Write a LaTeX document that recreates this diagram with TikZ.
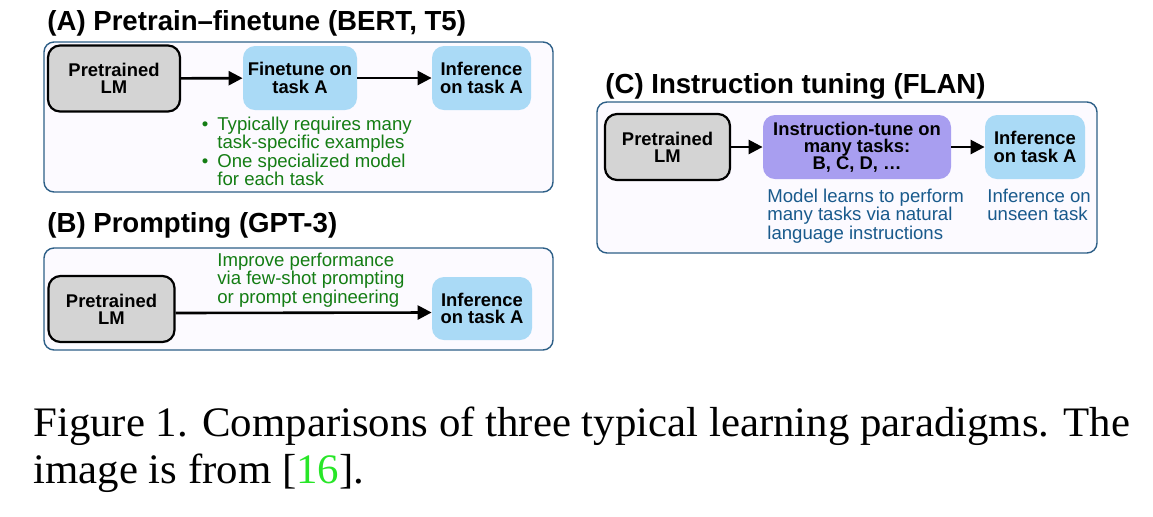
\documentclass[tikz,border=0pt]{standalone}
\usepackage{fontspec}
\setmainfont{Liberation Sans}
\newfontfamily\capfont[FakeStretch=1.02]{Liberation Serif}
\usetikzlibrary{arrows.meta}
\definecolor{panelborder}{RGB}{45,95,135}
\definecolor{panelfill}{RGB}{252,250,255}
\definecolor{lmgray}{RGB}{212,212,212}
\definecolor{lblue}{RGB}{170,218,246}
\definecolor{lpurple}{RGB}{168,158,240}
\definecolor{dgreen}{RGB}{20,125,20}
\definecolor{dblue}{RGB}{25,90,140}
\definecolor{citegreen}{RGB}{40,230,40}
\begin{document}
\begin{tikzpicture}[x=0.5pt,y=-0.5pt,
  panel/.style={draw=panelborder, fill=panelfill, line width=0.7pt, rounded corners=5pt, inner sep=0},
  boxfont/.style={font=\fontsize{9.2}{8.6}\selectfont\bfseries},
  lmbox/.style={boxfont, draw=black, line width=1.1pt, fill=lmgray, rounded corners=6pt, align=center, inner sep=0},
  bluebox/.style={boxfont, fill=lblue, rounded corners=6pt, align=center, inner sep=0},
  purplebox/.style={boxfont, fill=lpurple, rounded corners=6pt, align=center, inner sep=0},
  title/.style={font=\fontsize{13.8}{15}\selectfont\bfseries, anchor=base west, inner sep=0},
  note/.style={font=\fontsize{9.3}{8.5}\selectfont, anchor=base west, inner sep=0},
  arr/.style={-{Triangle[length=7pt,width=7pt]}, line width=1.3pt}]
\useasboundingbox (0,0) rectangle (1153,516);

% Panel A
\node[title] (tA) at (47,30) {(A) Pretrain--finetune (BERT, T5)};
\node[panel, minimum width=254.5pt, minimum height=75pt] (pA) at (298.5,117) {};
\node[lmbox, minimum width=66pt, minimum height=33pt] (aLM) at (114,78.5) {Pretrained\\LM};
\node[bluebox, minimum width=57pt, minimum height=32pt] (aFT) at (300,78) {Finetune on\\task A};
\node[bluebox, minimum width=49.5pt, minimum height=32pt] (aINF) at (481.5,78) {Inference\\on task A};
\draw[arr] (aLM) -- (aFT);
\draw[arr] (aFT) -- (aINF);
\node[note, text=dgreen] (aNote) at (217,130) {\begin{tabular}[t]{@{}l@{}}\llap{\textbullet\hspace{4.5pt}}Typically requires many\\task-specific examples\\\llap{\textbullet\hspace{4.5pt}}One specialized model\\for each task\end{tabular}};

% Panel B
\node[title] (tB) at (47,232) {(B) Prompting (GPT-3)};
\node[panel, minimum width=254.5pt, minimum height=51pt] (pB) at (298.5,299) {};
\node[lmbox, minimum width=63pt, minimum height=33pt] (bLM) at (111.5,309) {Pretrained\\LM};
\node[bluebox, minimum width=50pt, minimum height=31.5pt] (bINF) at (482,308.5) {Inference\\on task A};
\draw[arr] ([yshift=-2pt]bLM.east) -- ([yshift=-2pt]bINF.west);
\node[note, text=dgreen] (bNote) at (217,266) {\begin{tabular}[t]{@{}l@{}}Improve performance\\via few-shot prompting\\or prompt engineering\end{tabular}};

% Panel C
\node[title] (tC) at (605,93) {(C) Instruction tuning (FLAN)};
\node[panel, minimum width=250pt, minimum height=75.5pt] (pC) at (847,177.5) {};
\node[lmbox, minimum width=62.5pt, minimum height=33pt] (cLM) at (667.5,147) {Pretrained\\LM};
\node[purplebox, minimum width=94pt, minimum height=32pt] (cIT) at (857,147) {Instruction-tune on\\many tasks:\\B, C, D, \ldots};
\node[bluebox, minimum width=50pt, minimum height=32pt] (cINF) at (1035,147) {Inference\\on task A};
\draw[arr] (cLM) -- (cIT);
\draw[arr] (cIT) -- (cINF);
\node[note, text=dblue] (cNote1) at (767,202) {\begin{tabular}[t]{@{}l@{}}Model learns to perform\\many tasks via natural\\language instructions\end{tabular}};
\node[note, text=dblue] (cNote2) at (987,202) {\begin{tabular}[t]{@{}l@{}}Inference on\\unseen task\end{tabular}};

% Caption
\node[font=\capfont\fontsize{21}{23.5}\selectfont, anchor=base west, inner sep=0] (cap) at (33,436) {\begin{tabular}[t]{@{}l@{}}Figure 1. Comparisons of three typical learning paradigms. The\\image is from [\textcolor{citegreen}{16}].\end{tabular}};
\end{tikzpicture}
\end{document}
